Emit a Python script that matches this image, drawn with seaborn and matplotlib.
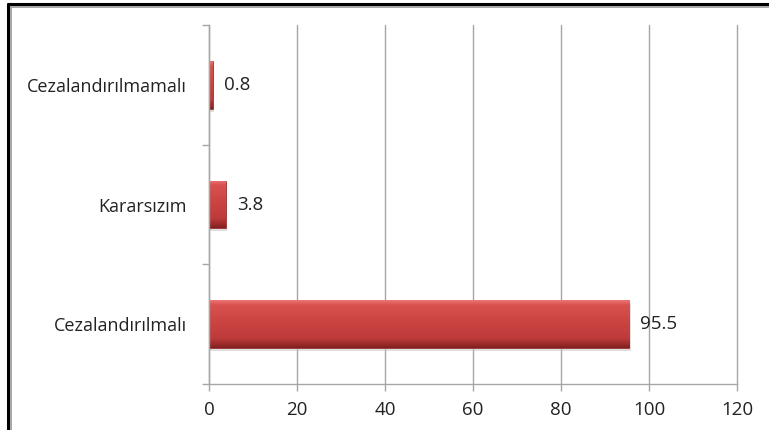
import numpy as np
import pandas as pd
import matplotlib
matplotlib.use("Agg")
import matplotlib.pyplot as plt
from matplotlib.lines import Line2D
from matplotlib.colors import LinearSegmentedColormap
import seaborn as sns

categories = ["Cezalandırılmamalı", "Kararsızım", "Cezalandırılmalı"]
values = [0.8, 3.8, 95.5]
value_labels = ["0.8", "3.8", "95.5"]
x_ticks = [0, 20, 40, 60, 80, 100, 120]

sns.set_theme(style="white")
plt.rcParams["font.family"] = ["Open Sans", "DejaVu Sans"]

df = pd.DataFrame({"cat": categories, "val": values})

fig = plt.figure(figsize=(7.69, 4.30), dpi=100)
ax = fig.add_axes([209/769, 1-384/430, (737-209)/769, (384-25)/430])

sns.barplot(data=df, y="cat", x="val", order=categories, orient="h",
            width=0.4, color="#C43C3C", ax=ax, saturation=1)

# gradient overlay on bars
cmap = LinearSegmentedColormap.from_list(
    "g", [(0, "#EC7674"), (0.1, "#D85250"), (0.45, "#CB4443"), (0.8, "#BE3B3B"),
          (0.92, "#9C2B2B"), (1, "#7E2020")])
grad = np.linspace(0, 1, 128).reshape(-1, 1)
for p in ax.patches:
    x0, y0 = p.get_x(), p.get_y()
    w, h = p.get_width(), p.get_height()
    p.set_edgecolor("#8A2222")
    p.set_linewidth(0.5)
    ax.add_patch(plt.Rectangle((x0 + 0.3, y0 + 0.025), w, h, color="#c8c8c8", alpha=0.6,
                               zorder=1.5, lw=0))
    im = ax.imshow(grad, extent=(x0, x0 + w, y0 + h, y0), aspect="auto", cmap=cmap, zorder=2.5,
                   origin="upper")
    im.set_clip_path(p)
    p.set_zorder(2.4)

for i, (v, lab) in enumerate(zip(values, value_labels)):
    ax.annotate(lab, xy=(v, i), xytext=(8, 0), textcoords="offset points", va="center", ha="left",
                fontsize=13.5, color="#222222")

ax.set_xlim(0, 120)
ax.set_ylim(2.5, -0.5)
ax.set_xticks(x_ticks)
ax.set_xticklabels([str(t) for t in x_ticks], fontsize=13.5, color="#222222")
ax.set_yticks(range(len(categories)))
ax.set_yticklabels(categories, fontsize=13, color="#222222")
ax.set_yticks([-0.5, 0.5, 1.5, 2.5], minor=True)
ax.tick_params(axis="y", which="major", length=0, pad=16)
ax.tick_params(axis="y", which="minor", length=5, width=1, color="#A6A6A6", left=True)
ax.tick_params(axis="x", which="major", length=5, width=1, color="#A6A6A6", bottom=True, pad=7)
ax.set_xlabel("")
ax.set_ylabel("")
ax.grid(axis="x", color="#A6A6A6", linewidth=1)
for gl in ax.get_xgridlines():
    gl.set_clip_on(False)
ax.set_axisbelow(True)
for s in ["top", "right"]:
    ax.spines[s].set_visible(False)
for s in ["left", "bottom"]:
    ax.spines[s].set_color("#A6A6A6")
    ax.spines[s].set_linewidth(1)

# figure border
W, H = 769, 430
fig.add_artist(Line2D([8/W, 8/W], [0, 1-4/H], color="black", lw=2.2, transform=fig.transFigure))
fig.add_artist(Line2D([8/W, 1], [1-4/H, 1-4/H], color="black", lw=2.2, transform=fig.transFigure))
fig.add_artist(Line2D([11/W, 11/W], [0, 1-6.5/H], color="#999999", lw=1.2, transform=fig.transFigure))
fig.add_artist(Line2D([11/W, 1], [1-6.5/H, 1-6.5/H], color="#999999", lw=1.2, transform=fig.transFigure))

fig.savefig("out.png", dpi=100, facecolor="white")
